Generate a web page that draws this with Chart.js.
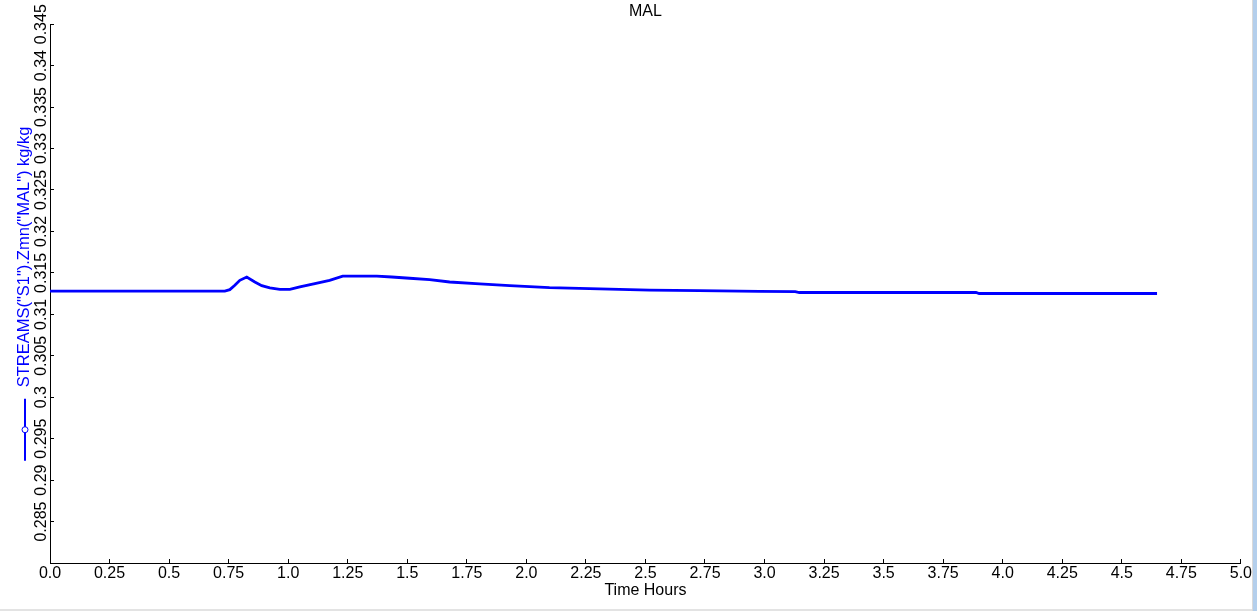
<!DOCTYPE html>
<html>
<head>
<meta charset="utf-8">
<script src="https://cdn.jsdelivr.net/npm/chart.js@4"></script>
<style>
  body { margin: 0; background: #fff; }
  #wrap { position: relative; width: 1257px; height: 611px; overflow: hidden; }
  #edgeR1 { position: absolute; left: 1252px; top: 0; width: 1px; height: 611px; background: #dadada; }
  #edgeR2 { position: absolute; left: 1253px; top: 0; width: 4px; height: 611px; background: #b4cfec; }
  #edgeB { position: absolute; left: 0; top: 609px; width: 1252px; height: 2px; background: #e3e3e3; }
</style>
</head>
<body>
<div id="wrap">
  <canvas id="malChart" width="1257" height="611"></canvas>
  <div id="edgeR1"></div><div id="edgeR2"></div><div id="edgeB"></div>
</div>
<script>
// 時間 (Hours)
var timeHours = [0, 0.734, 0.755, 0.776, 0.797, 0.826, 0.86, 0.889, 0.923, 0.965, 1.007,
  1.049, 1.112, 1.174, 1.229, 1.372, 1.435, 1.51, 1.594, 1.678, 1.804, 1.93, 2.097,
  2.307, 2.517, 2.726, 2.978, 3.129, 3.146, 3.888, 3.901, 4.648];
// STREAMS("S1").Zmn("MAL") kg/kg
var malValues = [0.3128, 0.3128, 0.31298, 0.3135, 0.3141, 0.3145, 0.3139, 0.31346, 0.31318,
  0.31302, 0.31302, 0.3133, 0.31371, 0.3141, 0.3146, 0.3146, 0.3145, 0.31435, 0.31419,
  0.3139, 0.31368, 0.31346, 0.31322, 0.31308, 0.31293, 0.31286, 0.31278, 0.31274,
  0.31263, 0.31263, 0.31251, 0.31251];

var xTickLabels = ["0.0", "0.25", "0.5", "0.75", "1.0", "1.25", "1.5", "1.75", "2.0", "2.25",
  "2.5", "2.75", "3.0", "3.25", "3.5", "3.75", "4.0", "4.25", "4.5", "4.75", "5.0"];
var yTickLabels = ["", "0.285", "0.29", "0.295", "0.3", "0.305", "0.31", "0.315", "0.32",
  "0.325", "0.33", "0.335", "0.34", "0.345"];

var seriesTitle = "                STREAMS(\"S1\").Zmn(\"MAL\") kg/kg";
var fontName = "'Liberation Sans', Arial, sans-serif";
var yTitleSize = 16.5;

var points = [];
for (var i = 0; i < timeHours.length; i++) {
  points.push({ x: timeHours[i], y: malValues[i] });
}

// 凡例マーカー (縦書きタイトルの下)
var legendMarker = {
  id: "legendMarker",
  afterDraw: function (chart) {
    var ctx = chart.ctx;
    var s = chart.scales.y;
    var mid = (s.top + s.bottom) / 2;
    ctx.save();
    ctx.font = yTitleSize + "px " + fontName;
    var w = ctx.measureText(seriesTitle).width;
    var bottom = mid + w / 2;
    var x = s.left + 14;
    ctx.strokeStyle = "#0000ff";
    ctx.lineWidth = 2;
    ctx.beginPath();
    ctx.moveTo(x, bottom - 62);
    ctx.lineTo(x, bottom);
    ctx.stroke();
    ctx.beginPath();
    ctx.arc(x, bottom - 31, 3, 0, Math.PI * 2);
    ctx.fillStyle = "#fff";
    ctx.fill();
    ctx.lineWidth = 1;
    ctx.stroke();
    ctx.restore();
  }
};

var malChart = new Chart(document.getElementById("malChart"), {
  type: "line",
  data: {
    datasets: [{
      label: seriesTitle,
      data: points,
      borderColor: "#0000ff",
      borderWidth: 2.8,
      pointRadius: 0,
      tension: 0,
      fill: false
    }]
  },
  options: {
    responsive: false,
    animation: false,
    layout: { padding: { left: 11, right: 15, top: 0, bottom: 8 } },
    plugins: {
      legend: { display: false },
      tooltip: { enabled: false },
      title: {
        display: true,
        text: "MAL",
        fullSize: false,
        color: "#000",
        font: { family: fontName, size: 16, weight: "normal" },
        padding: { top: 2, bottom: 3 }
      }
    },
    scales: {
      x: {
        type: "linear",
        min: 0,
        max: 5,
        afterFit: function (scale) { scale.height = 40; },
        ticks: {
          stepSize: 0.25,
          autoSkip: false,
          maxRotation: 0,
          padding: 5,
          color: "#000",
          font: { family: fontName, size: 16 },
          callback: function (v, i) { return xTickLabels[i]; }
        },
        grid: { drawOnChartArea: false, drawTicks: true, tickLength: -4, color: "#000" },
        border: { color: "#000", width: 1 },
        title: {
          display: true,
          text: "Time Hours",
          color: "#000",
          font: { family: fontName, size: 16 },
          padding: { top: 0, bottom: 3 }
        }
      },
      y: {
        min: 0.28,
        max: 0.345,
        afterFit: function (scale) { scale.width = 39; },
        ticks: {
          stepSize: 0.005,
          autoSkip: false,
          minRotation: 90,
          maxRotation: 90,
          crossAlign: "center",
          padding: -8,
          color: "#000",
          font: { family: fontName, size: 16 },
          callback: function (v, i) { return yTickLabels[i]; }
        },
        grid: { drawOnChartArea: false, drawTicks: true, tickLength: -4, color: "#000" },
        border: { color: "#000", width: 1 },
        title: {
          display: true,
          text: seriesTitle,
          color: "#0000ff",
          font: { family: fontName, size: yTitleSize },
          padding: { top: 4, bottom: 0 }
        }
      }
    }
  },
  plugins: [legendMarker]
});
</script>
</body>
</html>
